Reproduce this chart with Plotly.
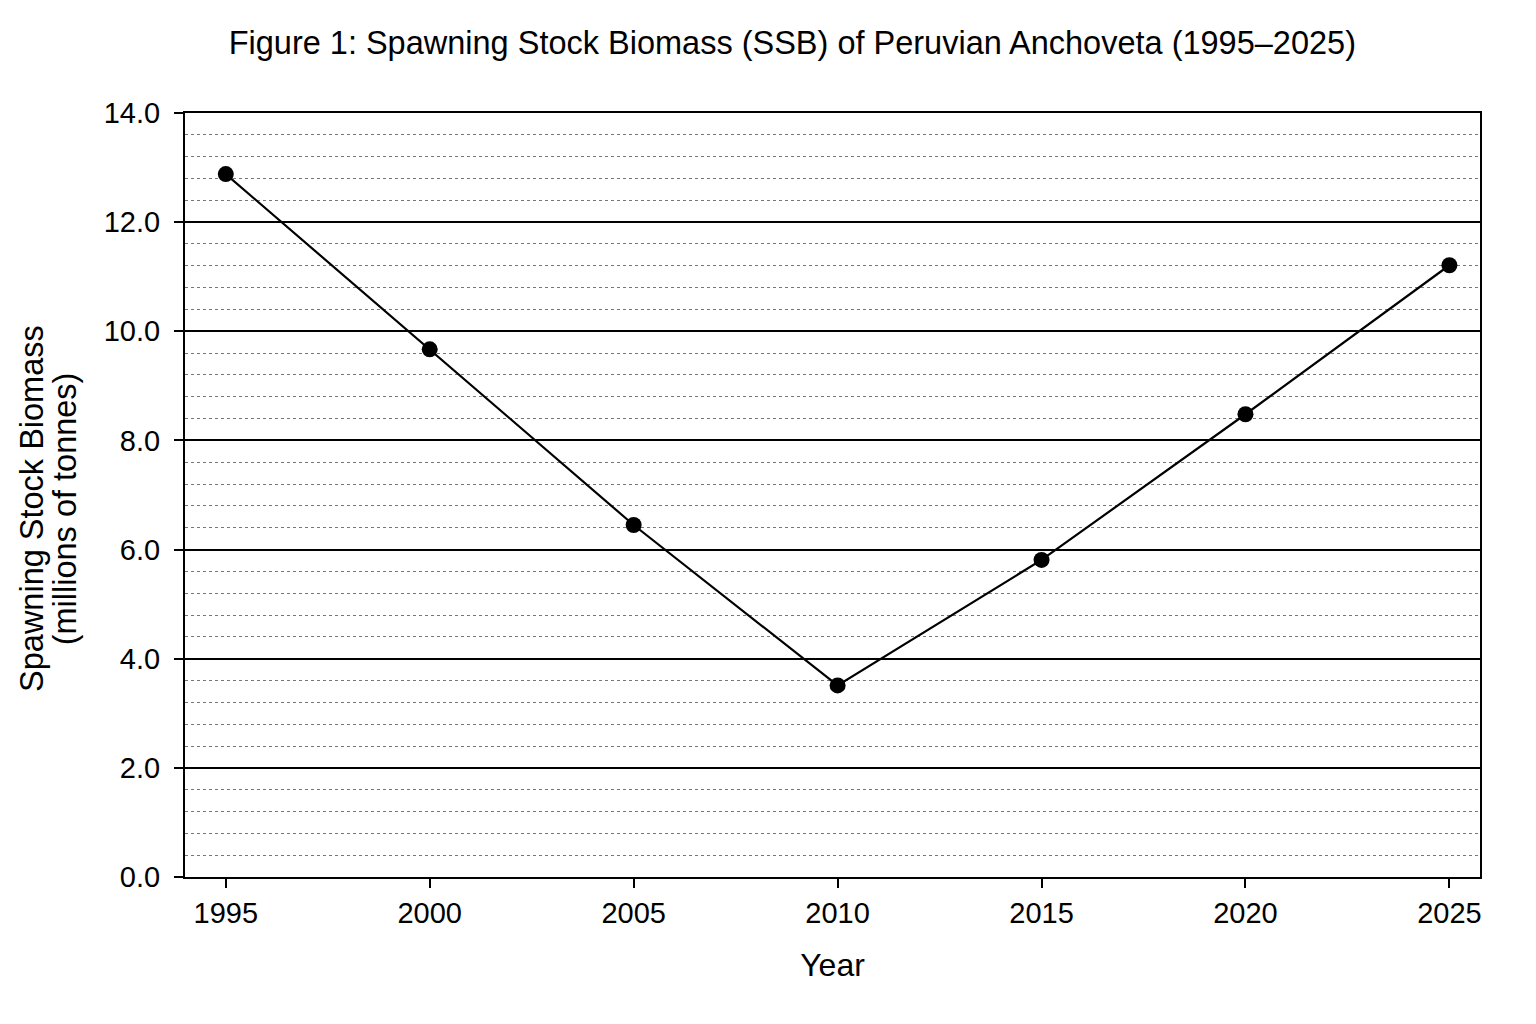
import plotly.graph_objects as go

# SSB of Peruvian anchoveta, millions of tonnes
years = [1995, 2000, 2005, 2010, 2015, 2020, 2025]
ssb = [12.88, 9.67, 6.45, 3.51, 5.81, 8.48, 11.21]

y_ticks = [0, 2, 4, 6, 8, 10, 12, 14]
y_labels = [f"{v:.1f}" for v in y_ticks]

y_title_lines = ["Spawning Stock Biomass", "(millions of tonnes)"]

FONT = "Liberation Sans, Arial, sans-serif"

fig = go.Figure()

fig.add_trace(
    go.Scatter(
        x=years,
        y=ssb,
        mode='lines+markers',
        line=dict(color='black', width=2.2),
        marker=dict(color='black', size=16),
        showlegend=False
    )
)

fig.update_layout(
    width=1520,
    height=1008,
    paper_bgcolor='white',
    plot_bgcolor='white',
    margin=dict(l=177, r=48, t=105, b=139),
    font=dict(family=FONT, color='black', size=24),
    title=dict(
        text="Figure 1: Spawning Stock Biomass (SSB) of Peruvian Anchoveta (1995\u20132025)",
        x=0.516, xanchor='center', xref='container',
        y=0.966, yanchor='middle', yref='container',
        font=dict(size=32.5, family=FONT, color='black')
    )
)

# y axis title as two rotated lines (tighter line spacing than the axis title)
for text, xpos in zip(y_title_lines, [-0.118, -0.093]):
    fig.add_annotation(
        text=text,
        xref='paper', yref='paper',
        x=xpos, y=0.482,
        xanchor='center', yanchor='middle',
        textangle=-90,
        showarrow=False,
        font=dict(size=32.5, family=FONT, color='black')
    )

fig.update_xaxes(
    range=[1994, 2025.75],
    tickvals=years,
    ticktext=[str(y) for y in years],
    ticks='outside',
    ticklen=9,
    tickwidth=1.5,
    tickcolor='black',
    showgrid=False,
    showline=True,
    linecolor='black',
    linewidth=2,
    mirror=True,
    zeroline=False,
    tickfont=dict(size=29),
    title=dict(text="Year", font=dict(size=32), standoff=26)
)

fig.update_yaxes(
    range=[0, 14],
    tickvals=y_ticks,
    ticktext=y_labels,
    ticks='outside',
    ticklen=9,
    tickwidth=1.5,
    tickcolor='black',
    ticklabelstandoff=8,
    showgrid=True,
    gridcolor='black',
    gridwidth=1.5,
    showline=True,
    linecolor='black',
    linewidth=2,
    mirror=True,
    zeroline=False,
    tickfont=dict(size=29),
    minor=dict(dtick=0.4, tick0=0, showgrid=True, gridcolor='#777777',
               griddash='dot', gridwidth=1, ticks='')
)

fig.write_html("out.html")
